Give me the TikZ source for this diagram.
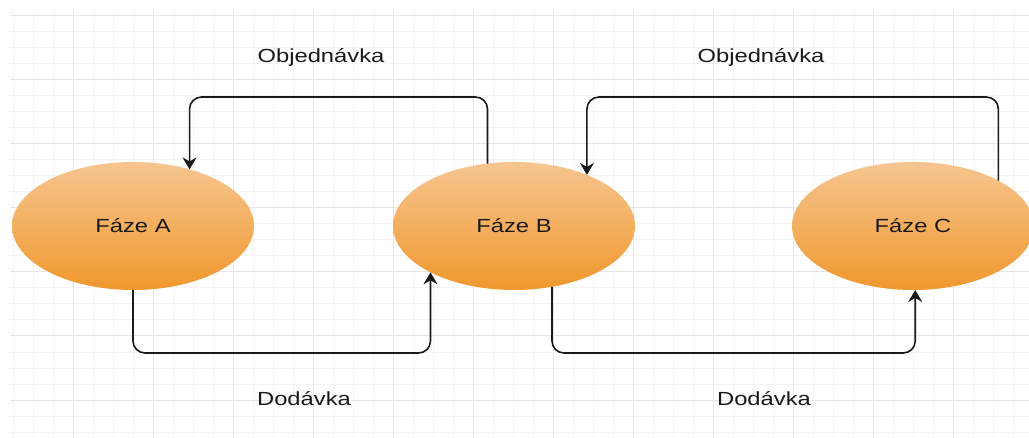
\documentclass[tikz,border=0pt]{standalone}
\usepackage{fontspec}
\setmainfont{Liberation Sans}
\usetikzlibrary{arrows.meta,shapes.geometric}
\definecolor{gridminor}{HTML}{F4F4F4}
\definecolor{gridmajor}{HTML}{E6E6E6}
\definecolor{phasetop}{HTML}{F6C590}
\definecolor{phasebot}{HTML}{F0982C}
\definecolor{ink}{HTML}{1A1A1A}
% horizontally widened text
\newcommand{\wide}[1]{\scalebox{1.25}[1]{#1}}

\begin{document}
\begin{tikzpicture}[x=1pt,y=1pt,
  phase/.style={ellipse, minimum width=242pt, minimum height=128pt,
    inner sep=0pt, outer sep=0pt, top color=phasetop, bottom color=phasebot,
    draw=none, text=ink, font=\fontsize{19}{23}\selectfont},
  lbl/.style={anchor=base, inner sep=0pt, text=ink, font=\fontsize{19}{23}\selectfont},
  flow/.style={draw=ink, line width=1.6pt, rounded corners=12pt,
    -{Stealth[length=12pt,width=14pt,inset=4pt]}}]
\useasboundingbox (0,0) rectangle (1029,437);
\fill[white] (0,0) rectangle (1029,437);

% background grid
\begin{scope}
  \clip (10,0) rectangle (1029,427);
  \foreach \x in {13,33,...,1013}
    \draw[gridminor, line width=1pt] (\x,0) -- (\x,427);
  \foreach \y in {5,21,...,421}
    \draw[gridminor, line width=1pt] (10,\y) -- (1029,\y);
  \foreach \x in {73,153,...,953}
    \draw[gridmajor, line width=1pt] (\x,0) -- (\x,427);
  \foreach \y in {37,101,...,421}
    \draw[gridmajor, line width=1pt] (10,\y) -- (1029,\y);
\end{scope}

% phases
\node[phase] (A) at (133,211) {\wide{Fáze A}};
\node[phase] (B) at (514,211) {\wide{Fáze B}};
\node[phase] (C) at (913,211) {\wide{Fáze C}};

% orders (upper loops)
\draw[flow] (B.113) -- (B.113 |- 0,340) -| (A.45);
\draw[flow] (C.28) -- (C.28 |- 0,340) -| (B.35);

% deliveries (lower loops)
\draw[flow] (A.south) -- (A.south |- 0,84) -| (B.209);
\draw[flow] (B.302) -- (B.302 |- 0,84) -| (C.272);

% labels
\node[lbl] (o1) at (321,374) {\wide{Objednávka}};
\node[lbl] (o2) at (761,374) {\wide{Objednávka}};
\node[lbl] (d1) at (304,32) {\wide{Dodávka}};
\node[lbl] (d2) at (764,32) {\wide{Dodávka}};
\end{tikzpicture}
\end{document}
